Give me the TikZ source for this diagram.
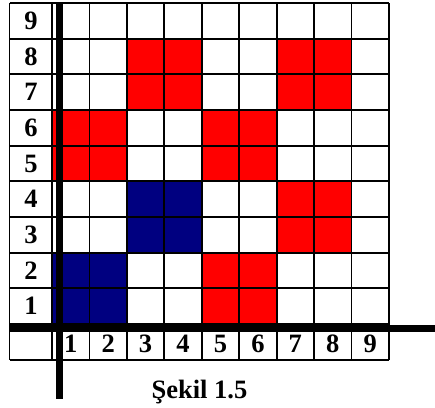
\documentclass[tikz,border=0pt]{standalone}
\usepackage{fontspec}
\setmainfont{Liberation Serif}
\definecolor{cellred}{HTML}{FF0000}
\definecolor{cellblue}{HTML}{000080}
\begin{document}
\begin{tikzpicture}[x=1pt,y=-1pt,
  gridline/.style={line width=1.8pt, draw=black},
  thickline/.style={line width=7pt, draw=black},
  num/.style={font=\fontsize{26.5}{26.5}\selectfont\bfseries, inner sep=0pt},
  captext/.style={font=\fontsize{26.5}{26.5}\selectfont\bfseries, inner sep=0pt, anchor=base}]
\useasboundingbox (0,0) rectangle (435,407);
\def\cw{37.44}
\def\rh{35.67}
% coloured 2x2 blocks (lower-left cell column/row)
\foreach \c/\r/\col in {3/7/cellred, 7/7/cellred, 1/5/cellred, 5/5/cellred, 7/3/cellred, 5/1/cellred, 3/3/cellblue, 1/1/cellblue}{
  \fill[\col] ({52+(\c-1)*\cw},{3+(8-\r)*\rh}) rectangle ({52+(\c+1)*\cw},{3+(10-\r)*\rh});
}
% grid lines
\draw[gridline] (9.5,3) -- (9.5,360);
\foreach \i in {0,...,9}{
  \draw[gridline] ({52+\i*\cw},3) -- ({52+\i*\cw},360);
}
\foreach \j in {0,...,9}{
  \draw[gridline] (9.5,{3+\j*\rh}) -- (389,{3+\j*\rh});
}
\draw[gridline] (9.5,360) -- (389,360);
% axes
\coordinate (vtop) at (59,3);
\coordinate (vbot) at (59,399);
\coordinate (hleft) at (10,328.5);
\coordinate (hright) at (435,328.5);
\draw[thickline] (vtop) -- (vbot);
\draw[thickline] (hleft) -- (hright);
% row labels
\foreach \r in {1,...,9}{
  \node[num] (row\r) at (31,{3+(9-\r+0.5)*\rh}) {\r};
}
% column labels
\foreach \c in {1,...,9}{
  \node[num] (col\c) at ({52+(\c-0.5)*\cw},344) {\c};
}
\node[captext] (caption) at (199.5,398) {Şekil 1.5};
\end{tikzpicture}
\end{document}
